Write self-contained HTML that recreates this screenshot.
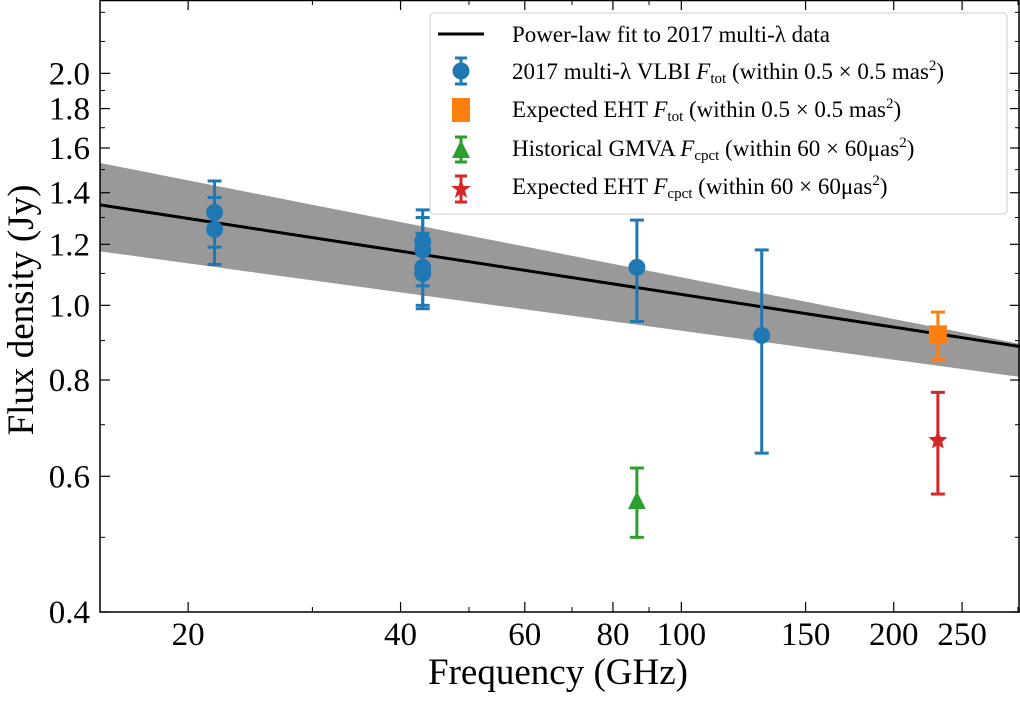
<!DOCTYPE html>
<html><head><meta charset="utf-8"><style>
body{margin:0;background:#fff;width:1020px;height:697px;overflow:hidden}
svg{font-family:"Liberation Serif",serif}
</style></head><body>
<svg id="c" width="1020" height="697"></svg>
<script>
const xTicks=[20,40,60,80,100,150,200,250];
const xMinor=[30,50,70,90,300];
const yTicks=[0.4,0.6,0.8,1.0,1.2,1.4,1.6,1.8,2.0];
const yMinor=[0.5,0.7,0.9,1.1,1.3,1.5,1.7,1.9,2.2,2.4];
const blueFreq=[21.8,21.8,43,43,43,43,86.5,130];
const blueVal=[1.32,1.255,1.21,1.18,1.12,1.10,1.12,0.914];
const blueLo=[1.19,1.13,1.09,1.06,1.00,0.99,0.953,0.643];
const blueHi=[1.45,1.38,1.33,1.30,1.24,1.22,1.29,1.18];
const orangeFreq=[231],orangeVal=[0.917],orangeLo=[0.85],orangeHi=[0.98];
const greenFreq=[86.5],greenVal=[0.557],greenLo=[0.50],greenHi=[0.615];
const redFreq=[231],redVal=[0.668],redLo=[0.569],redHi=[0.771];
const fitAmp=1.35,fitIdx=-0.141,bandHiAmp=1.53,bandHiIdx=-0.18,bandLoAmp=1.175,bandLoIdx=-0.125;
const L=100,R=1020,T=0,B=612,xmin=15,xmax=302,ymin=0.4,ymax=2.49;
const X=v=>L+(Math.log10(v/xmin))/Math.log10(xmax/xmin)*(R-L);
const Y=v=>B-(Math.log10(v/ymin))/Math.log10(ymax/ymin)*(B-T);
const s=document.getElementById('c');const NS='http://www.w3.org/2000/svg';
function el(t,a,p){const e=document.createElementNS(NS,t);for(const k in a)e.setAttribute(k,a[k]);(p||s).appendChild(e);return e;}
let pts=[];const fs=[];for(let i=0;i<=40;i++)fs.push(xmin*Math.pow(xmax/xmin,i/40));
fs.forEach(f=>pts.push(X(f)+','+Y(bandHiAmp*Math.pow(f/xmin,bandHiIdx))));
fs.slice().reverse().forEach(f=>pts.push(X(f)+','+Y(bandLoAmp*Math.pow(f/xmin,bandLoIdx))));
let e=el('polygon',{points:pts.join(' '),fill:'#999'});


e=el('line',{x1:X(xmin),y1:Y(fitAmp),x2:X(xmax),y2:Y(fitAmp*Math.pow(xmax/xmin,fitIdx)),stroke:'#000','stroke-width':3});


xTicks.forEach(v=>{const x=X(v);el('line',{x1:x,y1:B,x2:x,y2:B-10,stroke:'#000','stroke-width':1.2});el('line',{x1:x,y1:T,x2:x,y2:T+10,stroke:'#000','stroke-width':1.2});
const t=el('text',{x:x,y:645,'font-size':33,'text-anchor':'middle'});t.textContent=v;

});
xMinor.forEach(v=>{const x=X(v);el('line',{x1:x,y1:B,x2:x,y2:B-5,stroke:'#000'});el('line',{x1:x,y1:T,x2:x,y2:T+5,stroke:'#000'});});
yTicks.forEach(v=>{const y=Y(v);el('line',{x1:L,y1:y,x2:L+10,y2:y,stroke:'#000','stroke-width':1.2});el('line',{x1:R,y1:y,x2:R-10,y2:y,stroke:'#000','stroke-width':1.2});
const t=el('text',{x:90,y:y+11,'font-size':33,'text-anchor':'end'});t.textContent=v.toFixed(1);

});
yMinor.forEach(v=>{const y=Y(v);el('line',{x1:L,y1:y,x2:L+5,y2:y,stroke:'#000'});el('line',{x1:R,y1:y,x2:R-5,y2:y,stroke:'#000'});});
e=el('rect',{x:L,y:T+0.5,width:R-L-1,height:B-T-0.5,fill:'none',stroke:'#000','stroke-width':1.5});


function marker(kind,x,y,c,g){
 if(kind==='o')el('circle',{cx:x,cy:y,r:8.5,fill:c},g);
 if(kind==='s')el('rect',{x:x-9,y:y-9,width:18,height:18,fill:c},g);
 if(kind==='^')el('polygon',{points:`${x},${y-10} ${x-9},${y+8} ${x+9},${y+8}`,fill:c},g);
 if(kind==='*'){let p=[];for(let i=0;i<10;i++){const r=i%2?4.5:10,a=-Math.PI/2+i*Math.PI/5;p.push((x+r*Math.cos(a))+','+(y+r*Math.sin(a)));}el('polygon',{points:p.join(' '),fill:c},g);}
}
function series(name,f,v,lo,hi,c,kind){const g=el('g',{});
 f.forEach((fr,i)=>{const x=X(fr);el('line',{x1:x,y1:Y(lo[i]),x2:x,y2:Y(hi[i]),stroke:c,'stroke-width':3},g);
 [lo[i],hi[i]].forEach(w=>el('line',{x1:x-7,y1:Y(w),x2:x+7,y2:Y(w),stroke:c,'stroke-width':3},g));
 marker(kind,x,Y(v[i]),c,g);});}
series('vlbi-2017-series',blueFreq,blueVal,blueLo,blueHi,'#1f77b4','o');
series('expected-eht-tot-series',orangeFreq,orangeVal,orangeLo,orangeHi,'#ff7f0e','s');
series('gmva-cpct-series',greenFreq,greenVal,greenLo,greenHi,'#2ca02c','^');
series('expected-eht-cpct-series',redFreq,redVal,redLo,redHi,'#d62728','*');
</script>
<svg width="1020" height="697" style="position:absolute;left:0;top:0">
<g font-size="23" font-family="Liberation Serif, serif">
<rect x="430" y="13" width="577" height="201" rx="4" fill="#fff" fill-opacity="0.9" stroke="#ccc"/>
<line x1="438" y1="34" x2="484" y2="34" stroke="#000" stroke-width="3"/>
<text x="512" y="42">Power-law fit to 2017 multi-λ data</text>
<g stroke="#1f77b4" stroke-width="3"><line x1="461" y1="58" x2="461" y2="84"/><line x1="455" y1="58" x2="467" y2="58"/><line x1="455" y1="84" x2="467" y2="84"/></g><circle cx="461" cy="71" r="8.5" fill="#1f77b4"/>
<text x="512" y="79">2017 multi-λ VLBI <tspan font-style="italic">F</tspan><tspan font-size="15" dy="4">tot</tspan><tspan dy="-4"> (within 0.5 × 0.5 mas</tspan><tspan font-size="15" dy="-9">2</tspan><tspan dy="9">)</tspan></text>
<rect x="452" y="98" width="18" height="24" fill="#ff7f0e"/>
<text x="512" y="117">Expected EHT <tspan font-style="italic">F</tspan><tspan font-size="15" dy="4">tot</tspan><tspan dy="-4"> (within 0.5 × 0.5 mas</tspan><tspan font-size="15" dy="-9">2</tspan><tspan dy="9">)</tspan></text>
<g stroke="#2ca02c" stroke-width="3"><line x1="461" y1="137" x2="461" y2="162"/><line x1="455" y1="137" x2="467" y2="137"/><line x1="455" y1="162" x2="467" y2="162"/></g><polygon points="461,140 452,158 470,158" fill="#2ca02c"/>
<text x="512" y="156">Historical GMVA <tspan font-style="italic">F</tspan><tspan font-size="15" dy="4">cpct</tspan><tspan dy="-4"> (within 60 × 60μas</tspan><tspan font-size="15" dy="-9">2</tspan><tspan dy="9">)</tspan></text>
<g stroke="#d62728" stroke-width="3"><line x1="461" y1="176" x2="461" y2="202"/><line x1="455" y1="176" x2="467" y2="176"/><line x1="455" y1="202" x2="467" y2="202"/></g><polygon points="461,179 463.6,186 471,186 465,190.5 467.2,198 461,193.5 454.8,198 457,190.5 451,186 458.4,186" fill="#d62728"/>
<text x="512" y="194">Expected EHT <tspan font-style="italic">F</tspan><tspan font-size="15" dy="4">cpct</tspan><tspan dy="-4"> (within 60 × 60μas</tspan><tspan font-size="15" dy="-9">2</tspan><tspan dy="9">)</tspan></text>
</g>
<text x="558" y="684" font-size="37" text-anchor="middle" font-family="Liberation Serif, serif">Frequency (GHz)</text>
<text transform="translate(33,310) rotate(-90)" font-size="37" text-anchor="middle" font-family="Liberation Serif, serif">Flux density (Jy)</text>
</svg>
</body></html>
